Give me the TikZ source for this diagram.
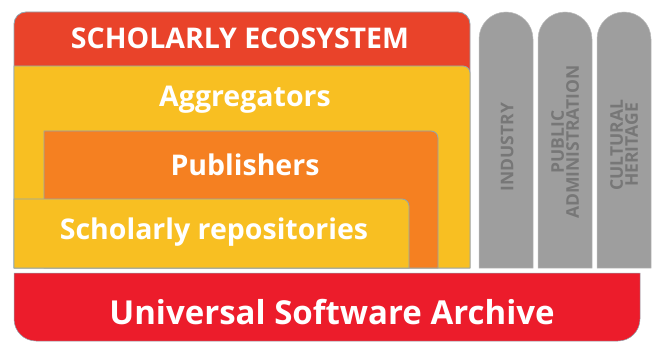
\documentclass[tikz,border=0pt]{standalone}
\usepackage{fontspec}
\setmainfont{Open Sans}
\definecolor{hdrred}{HTML}{E9432A}
\definecolor{ylw}{HTML}{F8BF22}
\definecolor{org}{HTML}{F58021}
\definecolor{botred}{HTML}{EC1C2B}
\definecolor{pillar}{HTML}{9E9E9E}
\definecolor{pilltxt}{HTML}{777777}
\definecolor{edge}{HTML}{8FA6B2}
\tikzset{
  layer/.style={line width=0.8pt, draw=edge},
  bigtxt/.style={text=white, font=\bfseries\fontsize{28.5}{30}\selectfont, inner sep=0pt},
  pilltext/.style={text=pilltxt, font=\bfseries\fontsize{17.5}{15}\selectfont, rotate=90, align=center, inner sep=0pt},
}
\begin{document}
\begin{tikzpicture}[x=1pt,y=1pt]
\useasboundingbox (0,0) rectangle (658,343);
% header
\path[layer, fill=hdrred] (14,75) -- (14,319) arc[start angle=180,end angle=90,radius=12] -- (458,331) arc[start angle=90,end angle=0,radius=12] -- (470,75) -- cycle;
% aggregators
\path[layer, fill=ylw] (14,75) -- (14,277) -- (463,277) arc[start angle=90,end angle=0,radius=7] -- (470,75) -- cycle;
% publishers
\path[layer, fill=org] (44,75) -- (44,212) -- (431,212) arc[start angle=90,end angle=0,radius=7] -- (438,75) -- cycle;
% repositories
\path[layer, fill=ylw] (14,75) -- (14,144) -- (402,144) arc[start angle=90,end angle=0,radius=7] -- (409,75) -- cycle;
% bottom archive
\path[fill=botred, draw=edge, line width=0.5pt] (14,70) -- (14,24) arc[start angle=180,end angle=270,radius=22] -- (618,2) arc[start angle=270,end angle=360,radius=22] -- (640,70) -- cycle;
% pillars
\foreach \x in {479,538,597}{
  \path[fill=pillar, draw=pillar!70!white, line width=0.5pt] (\x,75) -- (\x,304) arc[start angle=180,end angle=0,radius=27] -- (\x+54,75) -- cycle;
}
% texts
\node[bigtxt] (eco) at (240,305) {SCHOLARLY ECOSYSTEM};
\node[bigtxt] (agg) at (245,243) {Aggregators};
\node[bigtxt] (pub) at (245,178) {Publishers};
\node[bigtxt] (rep) at (214,111) {Scholarly repositories};
\node[text=white, font=\bfseries\fontsize{33}{35}\selectfont, inner sep=0pt] (usa) at (332,31) {Universal Software Archive};
\node[pilltext] (ind) at (507,196) {INDUSTRY};
\node[pilltext] (pa) at (565,201) {PUBLIC\\ADMINISTRATION};
\node[pilltext] (ch) at (624,198) {CULTURAL\\HERITAGE};
\end{tikzpicture}
\end{document}
